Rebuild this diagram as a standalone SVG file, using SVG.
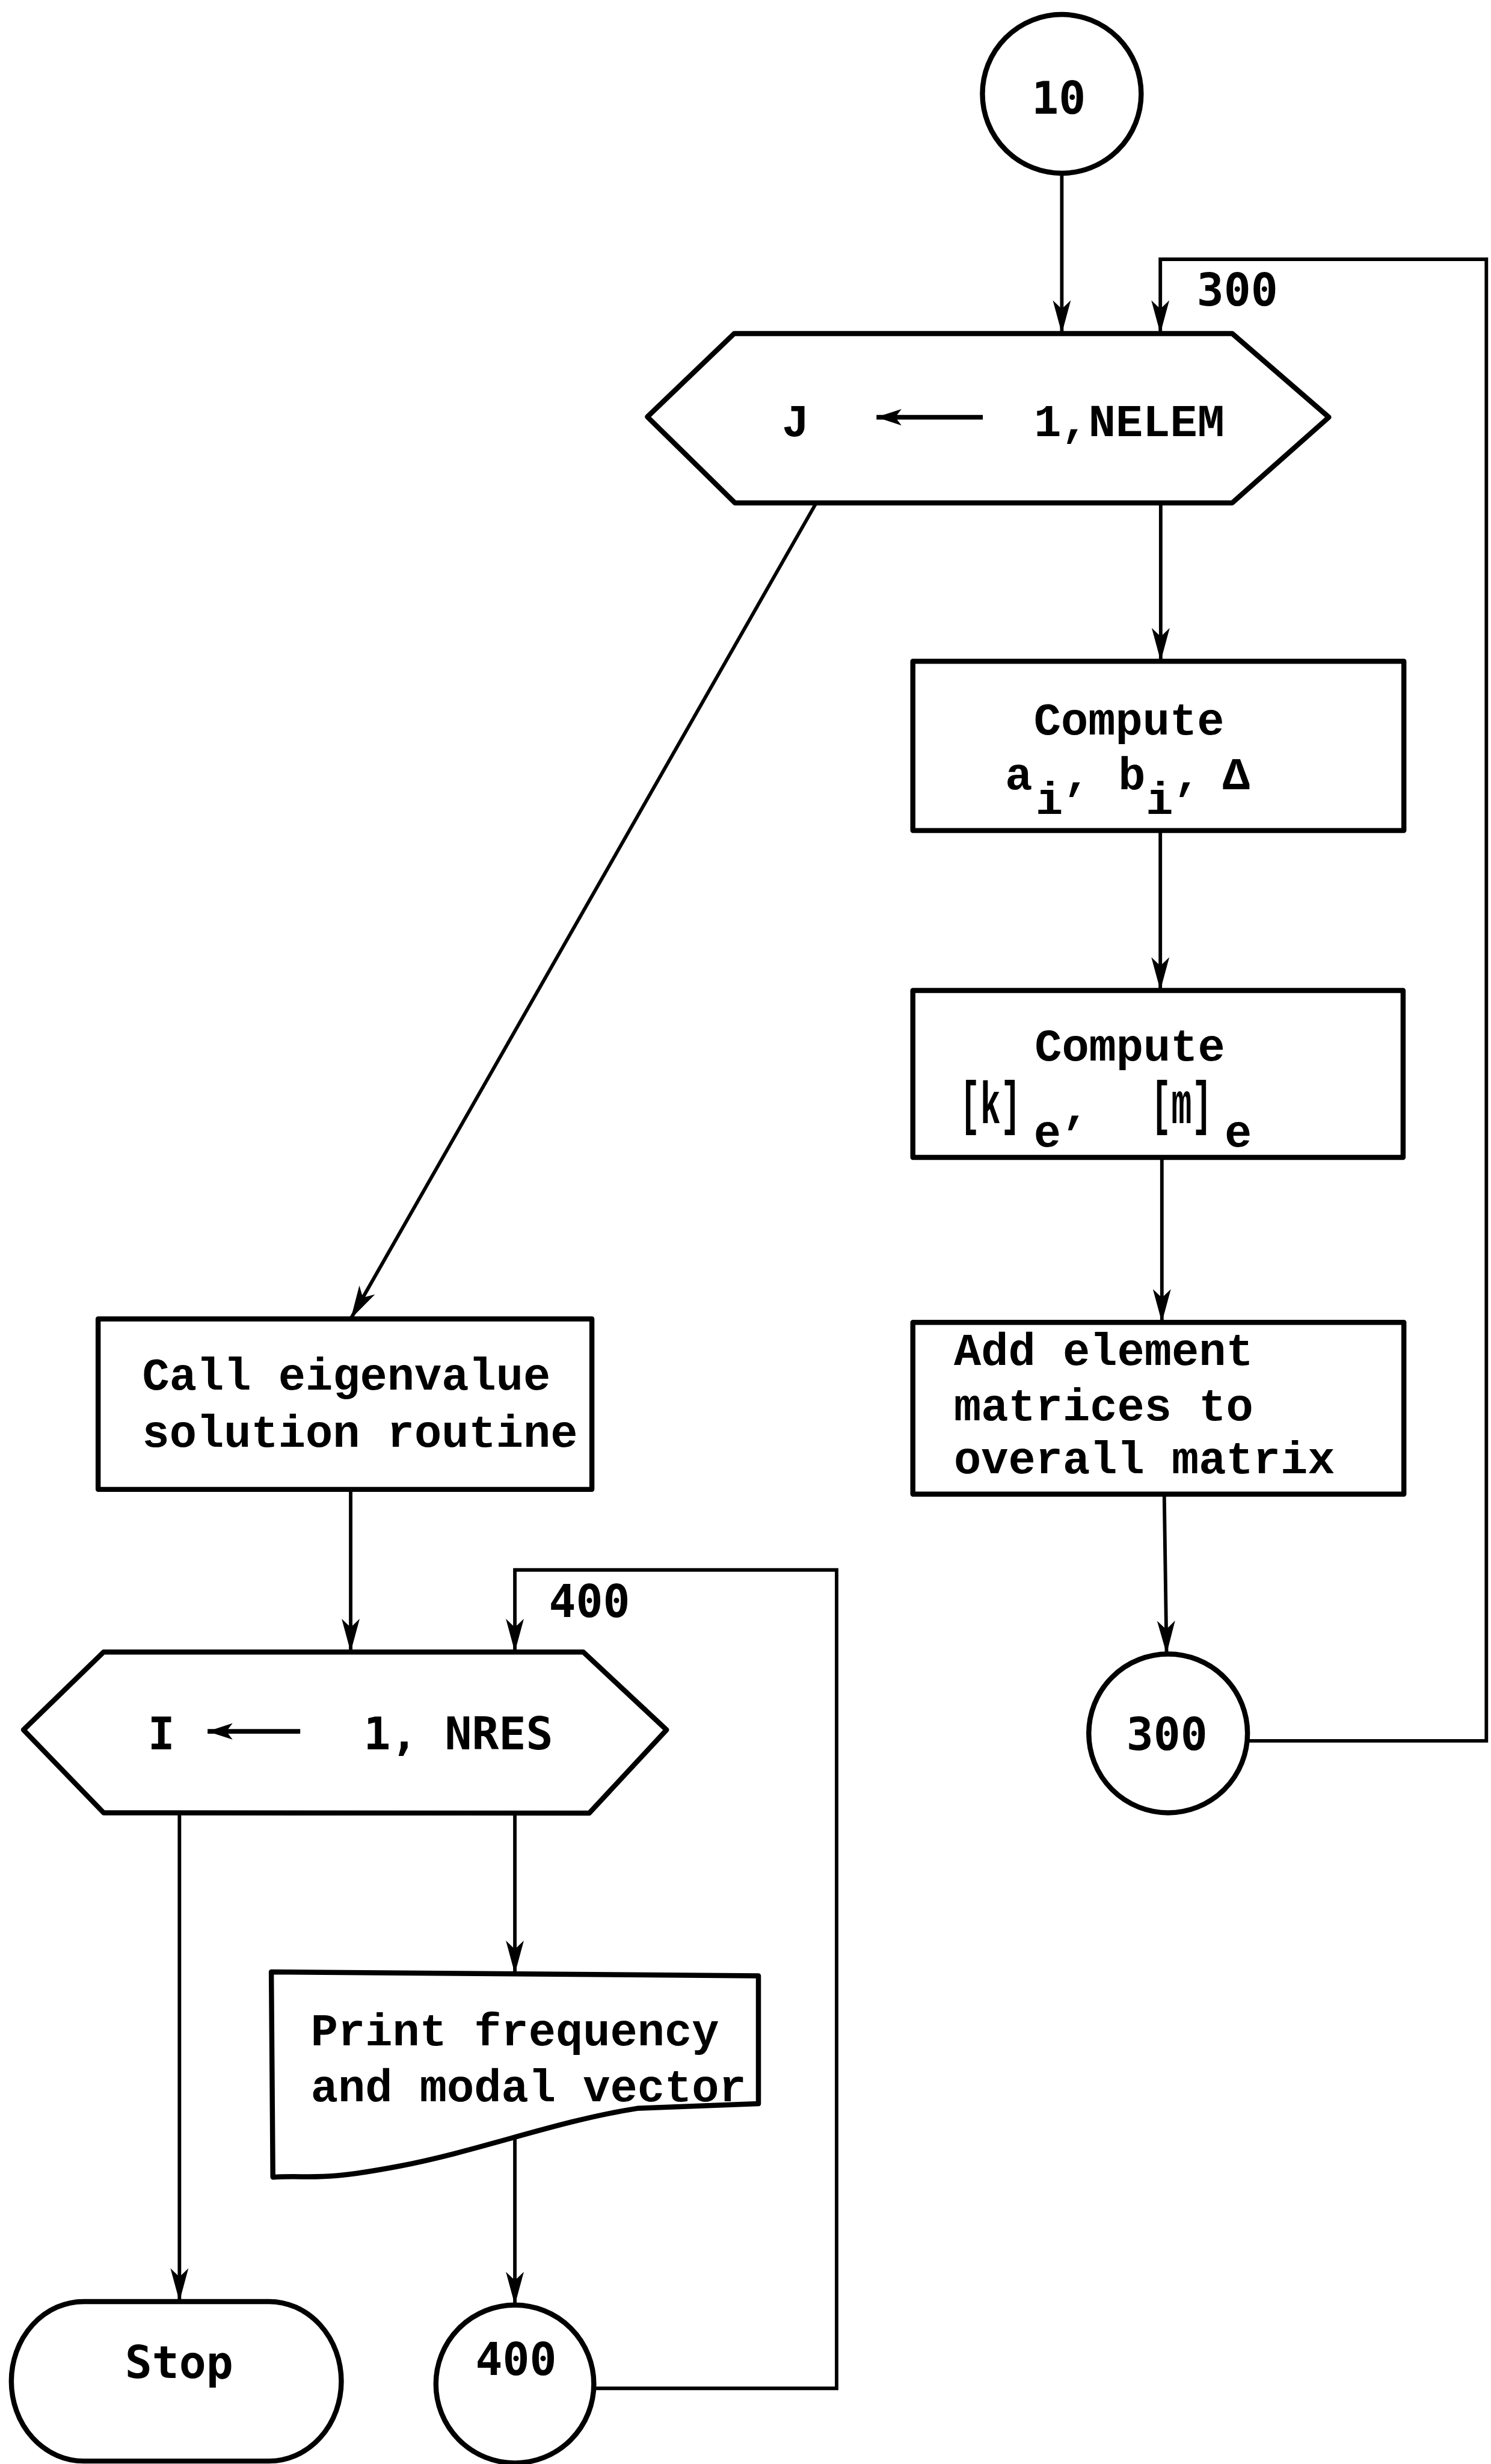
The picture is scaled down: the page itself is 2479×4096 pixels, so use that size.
<svg xmlns="http://www.w3.org/2000/svg" width="2479" height="4096" viewBox="0 0 2479 4096">
<style>
.node{fill:#fff;stroke:#000;stroke-width:13;stroke-linejoin:round}
.conn{fill:none;stroke:#000;stroke-width:9}
.t{font-family:"Liberation Mono","DejaVu Sans Mono",monospace;font-size:116px;font-weight:bold;fill:#000}
.g{font-family:"DejaVu Sans Mono","Liberation Mono",monospace;font-size:115px;font-weight:bold;fill:#000}
.inarrow{fill:none;stroke:#000;stroke-width:12}
</style>
<defs>
<marker id="ah" viewBox="0 0 85 50" refX="85" refY="25" markerWidth="85" markerHeight="50" markerUnits="userSpaceOnUse" orient="auto">
<path d="M0,2 L85,25 L0,48 L22,25 Z" fill="#000"/>
</marker>
<marker id="sah" viewBox="0 0 64 46" refX="64" refY="23" markerWidth="64" markerHeight="46" markerUnits="userSpaceOnUse" orient="auto">
<path d="M0,2 L64,23 L0,44 L16,23 Z" fill="#000"/>
</marker>
</defs>
<rect x="0" y="0" width="2479" height="4096" fill="#fff"/>
<g transform="scale(0.65)">
<g id="n10"><circle class="node" cx="2716" cy="240" r="203"/><text class="g" x="2708" y="290" text-anchor="middle">10</text></g>
<g id="hexJ"><polygon class="node" points="1656,1066 1878,853 3152,853 3399,1067 3152,1286 1880,1286"/>
<text class="t" x="2000" y="1116">J</text>
<line class="inarrow" x1="2514" y1="1067" x2="2242" y2="1067" marker-end="url(#sah)"/>
<text class="t" x="2645" y="1116">1,NELEM</text></g>
<g id="box1"><rect class="node" x="2335" y="1691" width="1256" height="433"/>
<text class="t" x="2888" y="1878" text-anchor="middle">Compute</text>
<text class="t" x="2606" y="2019" text-anchor="middle">a</text>
<text class="t" x="2684" y="2081" text-anchor="middle">i</text>
<text class="t" x="2755" y="2019" text-anchor="middle">,</text>
<text class="t" x="2895" y="2019" text-anchor="middle">b</text>
<text class="t" x="2966" y="2081" text-anchor="middle">i</text>
<text class="t" x="3037" y="2019" text-anchor="middle">,</text>
<text class="t" x="3162" y="2019" text-anchor="middle">Δ</text></g>
<g id="box2"><rect class="node" x="2335" y="2533" width="1254" height="427"/>
<text class="t" x="2890" y="2712" text-anchor="middle">Compute</text>
<text class="t" transform="translate(2455,2872) scale(0.75,1.3)">[k]</text>
<text class="t" x="2679" y="2932" text-anchor="middle">e</text>
<text class="t" x="2752" y="2870" text-anchor="middle">,</text>
<text class="t" transform="translate(2944,2872) scale(0.75,1.3)">[m]</text>
<text class="t" x="3167" y="2932" text-anchor="middle">e</text></g>
<g id="box3"><rect class="node" x="2335" y="3382" width="1256" height="439"/>
<text class="t" x="2440" y="3491">Add element</text>
<text class="t" x="2440" y="3632">matrices to</text>
<text class="t" x="2440" y="3767">overall matrix</text></g>
<g id="n300"><circle class="node" cx="2988" cy="4433" r="203"/><text class="g" x="2985" y="4475" text-anchor="middle">300</text></g>
<g id="boxCall"><rect class="node" x="251" y="3373" width="1263" height="436"/>
<text class="t" x="364" y="3554">Call eigenvalue</text>
<text class="t" x="364" y="3700">solution routine</text></g>
<g id="hexI"><polygon class="node" points="60,4424 265,4225 1492,4225 1705,4424 1507,4637 265,4636"/>
<text class="g" x="378" y="4474" font-size="112">I</text>
<line class="inarrow" x1="768" y1="4428" x2="531" y2="4428" marker-end="url(#sah)"/>
<text class="g" x="930" y="4474" font-size="112">1, NRES</text></g>
<g id="print"><path class="node" d="M694,5043 L1940,5053 L1940,5380 L1630,5392 C1420,5425 1230,5500 1020,5540 S800,5562 698,5568 Z"/>
<text class="t" x="795" y="5231">Print frequency</text>
<text class="t" x="795" y="5374">and modal vector</text></g>
<g id="stop"><rect class="node" x="29" y="5886" width="844" height="408" rx="185" ry="204"/>
<text class="g" x="458" y="6081" text-anchor="middle">Stop</text></g>
<g id="n400"><circle class="node" cx="1317" cy="6097" r="202"/><text class="g" x="1320" y="6074" text-anchor="middle">400</text></g>
<g id="connectors">
<path class="conn" d="M2716,443 L2716,853" marker-end="url(#ah)"/>
<path class="conn" d="M3191,4452 L3802,4452 L3802,663 L2968,663 L2968,853" marker-end="url(#ah)"/>
<path class="conn" d="M2969,1286 L2969,1691" marker-end="url(#ah)"/>
<path class="conn" d="M2968,2124 L2968,2533" marker-end="url(#ah)"/>
<path class="conn" d="M2972,2960 L2972,3382" marker-end="url(#ah)"/>
<path class="conn" d="M2978,3821 L2984,4230" marker-end="url(#ah)"/>
<path class="conn" d="M2088,1286 L897,3373" marker-end="url(#ah)"/>
<path class="conn" d="M897,3809 L897,4225" marker-end="url(#ah)"/>
<path class="conn" d="M1519,6108 L2140,6108 L2140,4015 L1317,4015 L1317,4225" marker-end="url(#ah)"/>
<path class="conn" d="M459,4636 L459,5886" marker-end="url(#ah)"/>
<path class="conn" d="M1317,4637 L1317,5048" marker-end="url(#ah)"/>
<path class="conn" d="M1317,5466 L1317,5895" marker-end="url(#ah)"/>
<text class="g" x="3061" y="782">300</text>
<text class="g" x="1404" y="4135">400</text>
</g>
</g>
</svg>
